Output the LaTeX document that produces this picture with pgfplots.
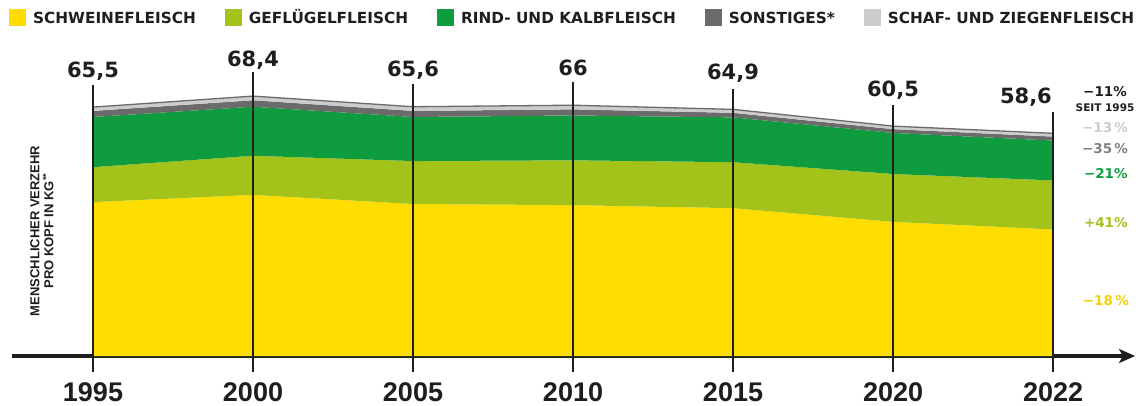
\documentclass[border=0pt]{standalone}
\usepackage{pgfplots}
\pgfplotsset{compat=1.18}
\usepackage{pgfplotstable}
\usepackage{fontspec}
\setmainfont{Liberation Sans}
\newfontfamily\dv{DejaVu Sans}
\usetikzlibrary{arrows.meta}
\definecolor{cyellow}{HTML}{FFDD00}
\definecolor{clime}{HTML}{A3C31A}
\definecolor{cgreen}{HTML}{0E9C3E}
\definecolor{cdgrey}{HTML}{6B6B6B}
\definecolor{clgrey}{HTML}{CCCCCC}
\definecolor{cink}{HTML}{1E1E1E}
\pgfplotstableread{
x schwein gefl rind sonst schaf total lab ep em
0 40.5 9.2 13.2 1.60 1.00 65.5 65,5 5.8 69.7
1 42.4 10.3 12.9 1.70 1.10 68.4 68,4 6.3 72.6
2 40.0 11.3 11.6 1.60 1.10 65.6 65,6 6.0 69.8
3 39.7 11.8 11.8 1.60 1.10 66.0 66 6.1 70.2
4 38.9 12.1 11.8 1.20 0.90 64.9 64,9 5.4 69.1
5 35.3 12.6 10.8 1.00 0.80 60.5 60,5 5.6 64.7
6 33.3 12.9 10.5 1.04 0.86 58.6 58,6 5.6 62.8
}\data
\begin{document}
\begin{tikzpicture}[x=1pt,y=1pt]
\path[use as bounding box] (0,0) rectangle (1142,405);
\begin{axis}[
  at={(12pt,49pt)}, anchor=south west,
  scale only axis, width=1123pt, height=304pt,
  xmin=-0.50625, xmax=6.5125, ymin=0, ymax=80,
  clip=false,
  axis y line=none,
  axis x line*=bottom,
  x axis line style={line width=4pt, color=cink, -{Stealth[length=16pt,width=14pt,inset=4pt]}},
  xtick={0,1,2,3,4,5,6},
  xticklabels={1995,2000,2005,2010,2015,2020,2022},
  major tick length=0pt,
  xticklabel style={anchor=base, yshift=-45pt, text=cink, font=\bfseries\fontsize{27}{27}\selectfont},
  legend columns=5,
  legend cell align=left,
  legend style={at={(-0.0027,1.1414)}, anchor=north west, draw=none, fill=none, inner sep=0pt,
    font=\dv\bfseries\fontsize{15.3}{15.3}\selectfont, text=cink,
    nodes={text height=11pt, text depth=0pt},
    /tikz/every odd column/.append style={column sep=5pt},
    /tikz/every even column/.append style={column sep=27pt}},
  legend image code/.code={\fill[#1] (0pt,-8.5pt) rectangle (17pt,8.5pt);},
]
\addplot[stack plots=y, fill=cyellow, draw=none] table[x=x,y=schwein]{\data} \closedcycle;
\addlegendentry{SCHWEINEFLEISCH}
\addplot[stack plots=y, fill=clime, draw=none] table[x=x,y=gefl]{\data} \closedcycle;
\addlegendentry{GEFLÜGELFLEISCH}
\addplot[stack plots=y, fill=cgreen, draw=none] table[x=x,y=rind]{\data} \closedcycle;
\addlegendentry{RIND- UND KALBFLEISCH}
\addplot[stack plots=y, fill=cdgrey, draw=none] table[x=x,y=sonst]{\data} \closedcycle;
\addlegendentry{SONSTIGES*}
\addplot[stack plots=y, fill=clgrey, draw=none] table[x=x,y=schaf]{\data} \closedcycle;
\addlegendentry{SCHAF- UND ZIEGENFLEISCH}
% top outline
\addplot[forget plot, draw=cdgrey, line width=1.3pt, mark=none] table[x=x,y=total]{\data};
% vertical year lines
\addplot[forget plot, draw=none, mark=none,
  error bars/.cd, y dir=both, y explicit, error mark=none,
  error bar style={draw=cink, line width=1.3pt}]
  table[x=x, y=total, y error plus=ep, y error minus=em]{\data};
% total labels (centred)
\addplot[forget plot, draw=none, mark=none, restrict x to domain=0:5.5,
  nodes near coords, point meta=explicit symbolic,
  nodes near coords style={anchor=base, yshift=30pt, inner sep=0pt, text=cink,
    font=\dv\bfseries\fontsize{21}{21}\selectfont}]
  table[x=x, y=total, meta=lab]{\data};
% last total label (right-aligned to the line)
\addplot[forget plot, draw=none, mark=none, restrict x to domain=5.5:6.5,
  nodes near coords, point meta=explicit symbolic,
  nodes near coords style={anchor=base east, yshift=30pt, xshift=-1pt, inner sep=0pt, text=cink,
    font=\dv\bfseries\fontsize{21}{21}\selectfont}]
  table[x=x, y=total, meta=lab]{\data};
% change labels
\node[text=cink, font=\dv\bfseries\fontsize{13.5}{13.5}\selectfont] at (axis cs:6.325,69.7) {−11\%};
\node[text=cink, font=\dv\bfseries\fontsize{10.5}{10.5}\selectfont] at (axis cs:6.325,65.3) {SEIT 1995};
\node[text=clgrey, font=\dv\bfseries\fontsize{13.5}{13.5}\selectfont] at (axis cs:6.325,60.1) {−13\,\%};
\node[text=cdgrey!85, font=\dv\bfseries\fontsize{13.5}{13.5}\selectfont] at (axis cs:6.325,54.6) {−35\,\%};
\node[text=cgreen, font=\dv\bfseries\fontsize{13.5}{13.5}\selectfont] at (axis cs:6.33,47.9) {−21\%};
\node[text=clime, font=\dv\bfseries\fontsize{13.5}{13.5}\selectfont] at (axis cs:6.33,35.0) {+41\%};
\node[text=cyellow!95!black, font=\dv\bfseries\fontsize{13.5}{13.5}\selectfont] at (axis cs:6.33,14.5) {−18\,\%};
\end{axis}
\node[rotate=90, align=center, text=cink, font=\bfseries\fontsize{13}{14}\selectfont] at (42,174)
  {MENSCHLICHER VERZEHR\\PRO KOPF IN KG\textsuperscript{**}};
\end{tikzpicture}
\end{document}
